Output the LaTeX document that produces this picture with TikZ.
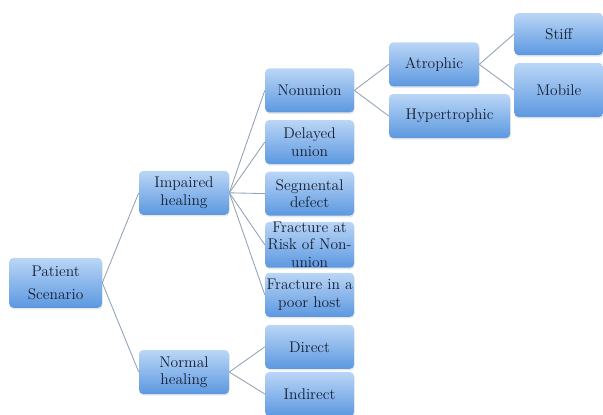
\documentclass[tikz,border=0pt]{standalone}
\usepackage{fontspec}
\usepackage{tikz}
\usetikzlibrary{positioning, shadows}

\definecolor{boxtop}{RGB}{186,214,246}
\definecolor{boxbot}{RGB}{92,152,224}
\definecolor{boxtext}{RGB}{22,30,48}
\definecolor{linkgray}{RGB}{145,160,180}

\begin{document}
\begin{tikzpicture}[
    box/.style={rectangle, rounded corners=3pt, top color=boxtop, bottom color=boxbot,
      draw=none, minimum width=2.225cm, minimum height=1.1cm, inner xsep=1pt, inner ysep=1pt,
      align=center, text=boxtext, font=\fontsize{11}{12.5}\selectfont\addfontfeatures{FakeBold=0.7},
      drop shadow={opacity=0.18, shadow xshift=0.4pt, shadow yshift=-1.2pt}},
    link/.style={draw=linkgray, line width=0.6pt}
  ]
  \useasboundingbox (0,0) rectangle (15.075,10.35);

  % Root and first level
  \node[box, minimum width=2.32cm, minimum height=1.25cm,
    font=\fontsize{11}{16}\selectfont\addfontfeatures{FakeBold=0.7}]
    (patient) at (1.39,3.28) {Patient\\Scenario};
  \node[box, minimum width=2.25cm, minimum height=1.1cm] (impaired) at (4.6,5.53) {Impaired\\healing};
  \node[box, minimum width=2.25cm] (normal) at (4.6,1.05) {Normal\\healing};

  % Second level
  \node[box] (nonunion)  at (7.74,8.09) {Nonunion};
  \node[box] (delayed)   at (7.74,6.8)  {Delayed\\union};
  \node[box] (segmental) at (7.74,5.51) {Segmental\\defect};
  \node[box, inner ysep=0pt] (risk) at (7.74,4.23) {Fracture at\\Risk of Non-\\union};
  \node[box] (poorhost)  at (7.74,2.98) {Fracture in a\\poor host};
  \node[box] (direct)    at (7.74,1.68) {Direct};
  \node[box] (indirect)  at (7.74,0.5)  {Indirect};

  % Nonunion types
  \node[box, minimum width=2.25cm] (atrophic) at (10.85,8.74) {Atrophic};
  \node[box, minimum width=3.03cm] (hypertrophic) at (11.24,7.45) {Hypertrophic};
  \node[box, minimum height=1.05cm] (stiff)  at (13.97,9.5) {Stiff};
  \node[box, minimum height=1.35cm] (mobile) at (13.97,8.1) {Mobile};

  % Connectors
  \draw[link] (patient.east) -- (impaired.west);
  \draw[link] (patient.east) -- (normal.west);
  \foreach \c in {nonunion,delayed,segmental,risk,poorhost}
    \draw[link] (impaired.east) -- (\c.west);
  \foreach \c in {direct,indirect}
    \draw[link] (normal.east) -- (\c.west);
  \draw[link] (nonunion.east) -- (atrophic.west);
  \draw[link] (nonunion.east) -- (hypertrophic.west);
  \draw[link] (atrophic.east) -- (stiff.west);
  \draw[link] (atrophic.east) -- (mobile.west);
\end{tikzpicture}
\end{document}
